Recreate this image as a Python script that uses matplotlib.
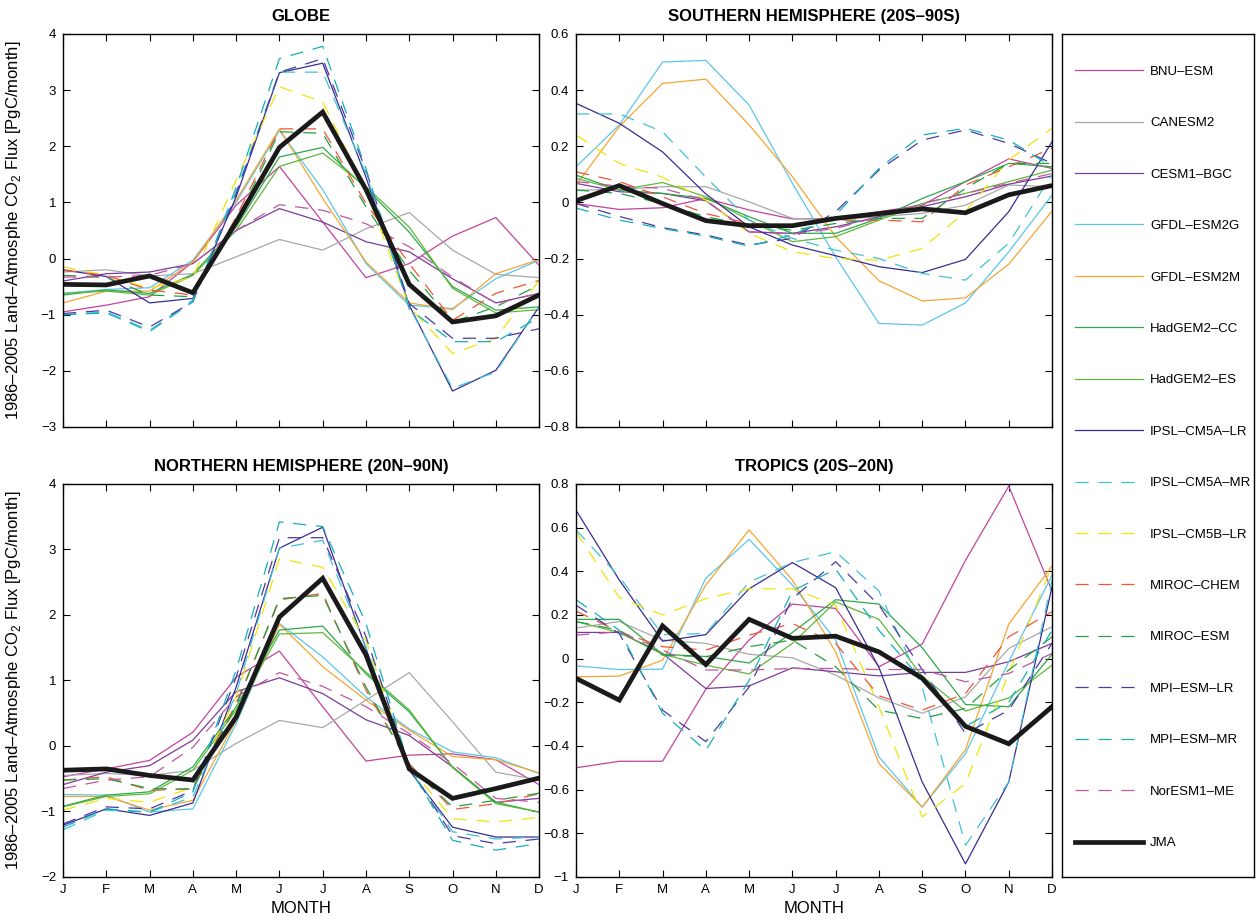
import numpy as np
import matplotlib
matplotlib.use('Agg')
import matplotlib.pyplot as plt

plt.rcParams['font.family'] = ['Liberation Sans', 'DejaVu Sans']
plt.rcParams['mathtext.fontset'] = 'custom'
plt.rcParams['mathtext.rm'] = 'Liberation Sans'
plt.rcParams['lines.scale_dashes'] = False

month_labels = ['J', 'F', 'M', 'A', 'M', 'J', 'J', 'A', 'S', 'O', 'N', 'D']
months = np.arange(1, 13)

models = ['BNU–ESM', 'CANESM2', 'CESM1–BGC', 'GFDL–ESM2G', 'GFDL–ESM2M',
          'HadGEM2–CC', 'HadGEM2–ES', 'IPSL–CM5A–LR', 'IPSL–CM5A–MR',
          'IPSL–CM5B–LR', 'MIROC–CHEM', 'MIROC–ESM', 'MPI–ESM–LR',
          'MPI–ESM–MR', 'NorESM1–ME']

# monthly mean flux, one row per model (same order as models)
globe = [
    [-0.95, -0.83, -0.68, -0.06, 0.95, 1.64, 0.65, -0.34, -0.09, 0.40, 0.73, -0.12],
    [-0.24, -0.20, -0.31, -0.27, 0.03, 0.34, 0.15, 0.53, 0.82, 0.15, -0.28, -0.34],
    [-0.40, -0.27, -0.24, -0.09, 0.50, 0.89, 0.65, 0.30, 0.12, -0.36, -0.79, -0.62],
    [-0.62, -0.55, -0.52, -0.03, 1.00, 2.28, 1.23, -0.09, -0.83, -0.89, -0.36, -0.03],
    [-0.79, -0.58, -0.58, -0.06, 1.04, 2.31, 1.07, -0.06, -0.79, -0.91, -0.27, -0.02],
    [-0.65, -0.56, -0.62, -0.28, 0.56, 1.81, 1.98, 1.25, 0.47, -0.50, -0.92, -0.86],
    [-0.62, -0.58, -0.65, -0.30, 0.50, 1.64, 1.88, 1.28, 0.56, -0.53, -0.97, -0.91],
    [-0.20, -0.32, -0.79, -0.71, 1.10, 3.31, 3.48, 1.45, -0.83, -2.36, -1.99, -0.86],
    [-1.00, -0.95, -1.28, -0.74, 1.20, 3.32, 3.32, 1.51, -0.86, -2.31, -2.02, -0.86],
    [-0.15, -0.30, -0.53, -0.33, 1.40, 3.06, 2.79, 1.22, -0.86, -1.69, -1.42, -0.39],
    [-0.21, -0.30, -0.56, -0.65, 0.74, 2.31, 2.31, 0.98, -0.09, -1.10, -0.62, -0.39],
    [-0.30, -0.33, -0.65, -0.68, 0.65, 2.26, 2.23, 0.92, -0.21, -1.13, -0.86, -0.47],
    [-0.98, -0.92, -1.22, -0.77, 1.15, 3.32, 3.56, 1.57, -0.80, -1.42, -1.42, -1.25],
    [-1.00, -0.97, -1.30, -0.77, 1.27, 3.56, 3.78, 1.60, -0.90, -1.48, -1.48, -1.05],
    [-0.33, -0.33, -0.30, -0.09, 0.50, 0.96, 0.86, 0.62, 0.21, -0.33, -0.80, -0.62],
]
globe_jma = [-0.46, -0.47, -0.31, -0.61, 0.65, 1.98, 2.61, 1.23, -0.46, -1.13, -1.02, -0.65]

south = [
    [-0.004, -0.025, -0.019, 0.014, -0.027, -0.059, -0.057, -0.033, -0.010, 0.074, 0.155, 0.121],
    [0.044, 0.046, 0.056, 0.056, 0.002, -0.057, -0.061, -0.051, -0.039, -0.010, 0.062, 0.056],
    [0.068, 0.038, 0.032, 0.006, -0.105, -0.110, -0.087, -0.051, -0.015, 0.020, 0.065, 0.094],
    [0.127, 0.276, 0.500, 0.506, 0.347, 0.068, -0.194, -0.431, -0.437, -0.358, -0.176, 0.026],
    [0.062, 0.270, 0.424, 0.439, 0.276, 0.092, -0.122, -0.279, -0.351, -0.340, -0.220, -0.031],
    [0.097, 0.044, 0.032, 0.014, -0.051, -0.110, -0.110, -0.057, 0.014, 0.074, 0.139, 0.127],
    [0.086, 0.044, 0.071, 0.020, -0.063, -0.140, -0.122, -0.063, -0.004, 0.032, 0.074, 0.115],
    [0.353, 0.282, 0.180, 0.030, -0.087, -0.152, -0.190, -0.229, -0.250, -0.203, -0.033, 0.216],
    [0.315, 0.315, 0.252, 0.090, -0.063, -0.128, -0.170, -0.200, -0.253, -0.277, -0.146, 0.100],
    [0.240, 0.139, 0.090, 0.008, -0.110, -0.176, -0.200, -0.206, -0.164, -0.033, 0.151, 0.264],
    [0.109, 0.074, 0.020, -0.040, -0.075, -0.081, -0.063, -0.063, -0.069, 0.062, 0.127, 0.193],
    [0.044, 0.032, -0.004, -0.051, -0.081, -0.099, -0.075, -0.057, -0.057, 0.050, 0.139, 0.139],
    [-0.004, -0.050, -0.090, -0.116, -0.152, -0.128, -0.033, 0.115, 0.222, 0.258, 0.210, 0.139],
    [-0.020, -0.063, -0.093, -0.120, -0.156, -0.116, -0.045, 0.121, 0.240, 0.264, 0.222, 0.127],
    [0.074, 0.058, 0.050, 0.008, -0.105, -0.113, -0.093, -0.051, -0.004, 0.032, 0.068, 0.103],
]
south_jma = [0.006, 0.060, -0.004, -0.065, -0.083, -0.083, -0.057, -0.040, -0.023, -0.037, 0.027, 0.060]

north = [
    [-0.47, -0.35, -0.22, 0.21, 1.05, 1.45, 0.60, -0.23, -0.14, -0.12, -0.21, -0.59],
    [-0.45, -0.42, -0.45, -0.37, 0.04, 0.39, 0.28, 0.70, 1.12, 0.37, -0.40, -0.52],
    [-0.59, -0.40, -0.30, 0.09, 0.83, 1.04, 0.80, 0.40, 0.16, -0.32, -0.86, -0.80],
    [-0.74, -0.75, -1.01, -0.96, 0.34, 1.87, 1.36, 0.75, 0.26, -0.09, -0.18, -0.42],
    [-0.77, -0.77, -0.98, -0.83, 0.39, 1.86, 1.21, 0.70, 0.24, -0.16, -0.21, -0.41],
    [-0.92, -0.75, -0.70, -0.32, 0.60, 1.77, 1.83, 1.10, 0.52, -0.32, -0.86, -1.01],
    [-0.93, -0.77, -0.73, -0.37, 0.55, 1.71, 1.73, 1.13, 0.55, -0.33, -0.88, -1.01],
    [-1.21, -0.96, -1.06, -0.87, 0.90, 3.02, 3.34, 1.49, -0.37, -1.24, -1.39, -1.39],
    [-1.28, -0.98, -1.01, -0.78, 0.80, 3.02, 3.14, 1.51, -0.32, -1.31, -1.42, -1.39],
    [-0.98, -0.80, -0.86, -0.63, 0.75, 2.86, 2.73, 1.61, -0.32, -1.11, -1.16, -1.09],
    [-0.52, -0.47, -0.68, -0.65, 0.65, 2.23, 2.33, 0.85, -0.27, -0.97, -0.88, -0.73],
    [-0.52, -0.50, -0.65, -0.66, 0.62, 2.25, 2.30, 0.90, -0.30, -0.93, -0.83, -0.72],
    [-1.19, -0.93, -0.96, -0.68, 1.05, 3.18, 3.18, 1.67, -0.32, -1.37, -1.49, -1.42],
    [-1.24, -0.96, -1.01, -0.70, 1.16, 3.42, 3.35, 1.87, -0.32, -1.44, -1.59, -1.49],
    [-0.65, -0.52, -0.47, -0.02, 0.75, 1.12, 0.91, 0.60, 0.19, -0.27, -0.80, -0.86],
]
north_jma = [-0.37, -0.35, -0.45, -0.52, 0.44, 1.97, 2.56, 1.39, -0.35, -0.80, -0.65, -0.49]

tropics = [
    [-0.50, -0.47, -0.47, -0.14, 0.085, 0.25, 0.23, -0.037, 0.067, 0.45, 0.79, 0.31],
    [0.14, 0.17, 0.085, 0.07, 0.02, 0.004, -0.075, -0.18, -0.25, -0.175, 0.047, 0.146],
    [0.12, 0.12, 0.024, -0.137, -0.125, -0.042, -0.06, -0.079, -0.063, -0.063, -0.014, 0.07],
    [-0.033, -0.05, -0.048, 0.368, 0.546, 0.337, 0.085, -0.45, -0.68, -0.435, -0.014, 0.383],
    [-0.083, -0.08, -0.007, 0.337, 0.59, 0.36, 0.031, -0.48, -0.68, -0.417, 0.158, 0.424],
    [0.18, 0.18, 0.02, 0.01, -0.02, 0.12, 0.27, 0.25, 0.05, -0.21, -0.22, 0.02],
    [0.17, 0.12, 0.02, -0.03, -0.07, 0.07, 0.26, 0.18, -0.08, -0.24, -0.18, -0.03],
    [0.68, 0.36, 0.08, 0.11, 0.32, 0.44, 0.325, -0.04, -0.565, -0.94, -0.565, 0.33],
    [0.59, 0.375, 0.11, 0.115, 0.35, 0.44, 0.49, 0.31, -0.13, -0.855, -0.565, 0.36],
    [0.58, 0.28, 0.20, 0.275, 0.32, 0.32, 0.245, -0.22, -0.725, -0.572, -0.068, 0.428],
    [0.218, 0.123, 0.055, 0.039, 0.108, 0.161, 0.07, -0.17, -0.236, -0.16, 0.10, 0.215],
    [0.17, 0.13, 0.016, 0.009, 0.055, 0.085, -0.037, -0.236, -0.274, -0.228, -0.052, 0.10],
    [0.245, 0.115, -0.236, -0.38, -0.13, 0.275, 0.444, 0.245, -0.05, -0.343, -0.236, 0.07],
    [0.27, 0.13, -0.25, -0.42, -0.10, 0.31, 0.41, 0.13, -0.10, -0.31, -0.20, 0.13],
    [0.108, 0.123, 0.039, -0.052, -0.052, -0.045, -0.045, -0.05, -0.05, -0.106, -0.068, 0.024],
]
tropics_jma = [-0.09, -0.19, 0.15, -0.027, 0.18, 0.093, 0.103, 0.031, -0.09, -0.31, -0.39, -0.22]

colors = ['#c2439c', '#a8a8a8', '#7b3b9a', '#5cc6e8', '#f7a532',
          '#2ea84a', '#5db83a', '#3a2c90', '#3fc2d8', '#f2e30a',
          '#f0553a', '#23a040', '#4a3aa6', '#15b0b6', '#c0569e']
dashed = [False] * 8 + [True] * 7
dash_style = (0, (9.5, 7))

panels = [
    ('GLOBE', globe, globe_jma, (-3, 4), np.arange(-3, 5, 1)),
    ('SOUTHERN HEMISPHERE (20S–90S)', south, south_jma, (-0.8, 0.6), np.arange(-0.8, 0.61, 0.2)),
    ('NORTHERN HEMISPHERE (20N–90N)', north, north_jma, (-2, 4), np.arange(-2, 5, 1)),
    ('TROPICS (20S–20N)', tropics, tropics_jma, (-1, 0.8), np.arange(-1, 0.81, 0.2)),
]
positions = [
    [0.0502, 0.5364, 0.379, 0.4267],
    [0.4586, 0.5364, 0.379, 0.4267],
    [0.0502, 0.0478, 0.379, 0.4267],
    [0.4586, 0.0478, 0.379, 0.4267],
]


def tick_text(v):
    v = round(float(v), 1) + 0.0
    return ('%g' % v).replace('-', '\u2212')


fig = plt.figure(figsize=(12.56, 9.21), dpi=100)

handles = []
for k, (title, rows, jma, ylim, yticks) in enumerate(panels):
    ax = fig.add_axes(positions[k])
    for i, name in enumerate(models):
        ls = dash_style if dashed[i] else '-'
        line, = ax.plot(months, rows[i], color=colors[i], lw=0.9, linestyle=ls, label=name)
        if k == 0:
            handles.append(line)
    jl, = ax.plot(months, jma, color='#1a1a1a', lw=3.4, label='JMA', solid_joinstyle='miter')
    if k == 0:
        handles.append(jl)

    ax.set_xlim(1, 12)
    ax.set_ylim(*ylim)
    ax.set_yticks(yticks)
    ax.set_yticklabels([tick_text(v) for v in yticks])
    ax.set_xticks(months)
    if k >= 2:
        ax.set_xticklabels(month_labels)
        ax.set_xlabel('MONTH', fontsize=12, labelpad=4)
    else:
        ax.set_xticklabels([])
    ax.tick_params(direction='in', top=True, right=True, length=5, width=0.8,
                   labelsize=9.5, pad=5)
    for s in ax.spines.values():
        s.set_linewidth(1.0)
    ax.set_title(title, fontsize=12, fontweight='bold', pad=9)
    if k % 2 == 0:
        ax.set_ylabel('1986–2005 Land–Atmosphe CO$_\\mathregular{2}$ Flux [PgC/month]',
                      fontsize=12)
        ax.yaxis.set_label_coords(-0.084, 0.5)

# legend panel on the right
lax = fig.add_axes([0.8455, 0.0478, 0.1529, 0.9153])
lax.set_xticks([])
lax.set_yticks([])
for s in lax.spines.values():
    s.set_linewidth(1.0)
lax.legend(handles=handles, loc='upper left', bbox_to_anchor=(0.068, 0.9625),
           frameon=False, fontsize=9.5, handlelength=5.15, handletextpad=0.55,
           labelspacing=2.97, borderpad=0, borderaxespad=0)

fig.savefig('out.png', dpi=100)
